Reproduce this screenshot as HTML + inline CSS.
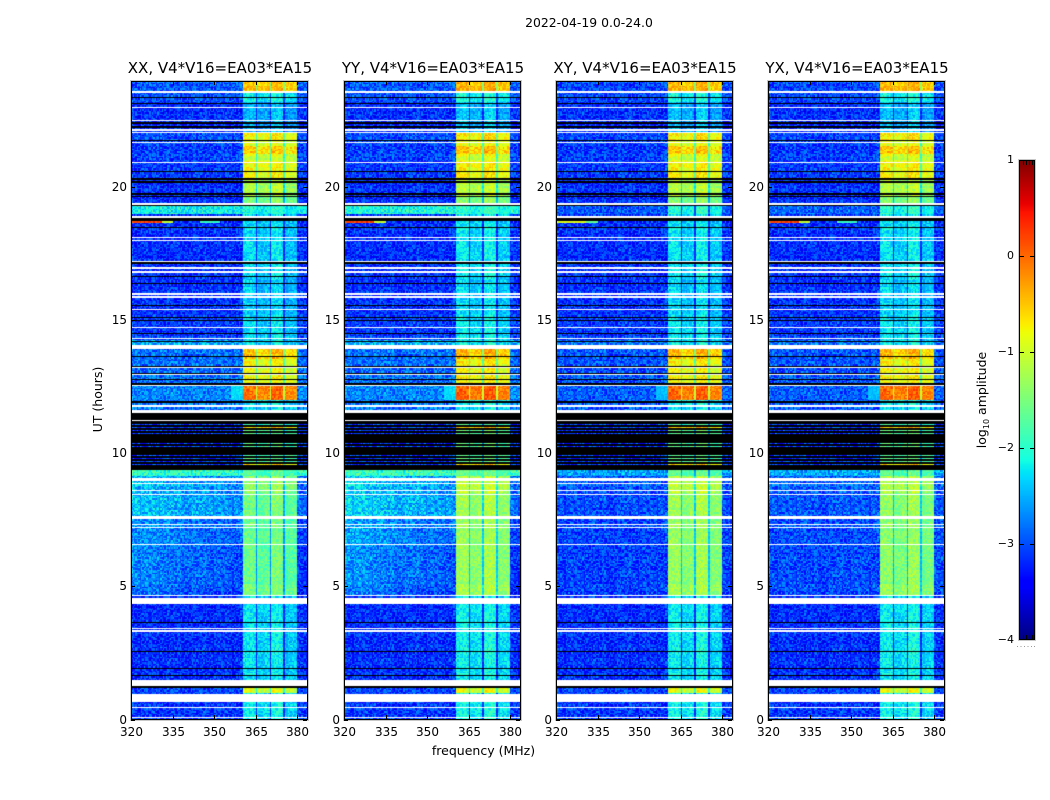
<!DOCTYPE html>
<html>
<head>
<meta charset="utf-8">
<title>Dynamic spectra 2022-04-19</title>
<style>
html,body{margin:0;padding:0;background:#fff;}
#chart{position:relative;width:1050px;height:800px;overflow:hidden;background:#fff;font-family:"DejaVu Sans","Liberation Sans",sans-serif;}
canvas{position:absolute;display:block;}
svg{position:absolute;left:0;top:0;}
text{font-family:"DejaVu Sans","Liberation Sans",sans-serif;fill:#000;}
</style>
</head>
<body>
<div id="chart">
<canvas id="heat0" width="178" height="640" style="left:131px;top:80px"></canvas>
<canvas id="heat1" width="178" height="640" style="left:344px;top:80px"></canvas>
<canvas id="heat2" width="178" height="640" style="left:556px;top:80px"></canvas>
<canvas id="heat3" width="178" height="640" style="left:768px;top:80px"></canvas>
<canvas id="cbar" width="16" height="480" style="left:1019px;top:160px"></canvas>
<svg id="overlay" width="1050" height="800" viewBox="0 0 1050 800">
<text x="589" y="27" text-anchor="middle" font-size="12.4">2022-04-19 0.0-24.0</text>
<text x="483.5" y="755" text-anchor="middle" font-size="12.5">frequency (MHz)</text>
<text transform="translate(102,399.5) rotate(-90)" text-anchor="middle" font-size="12.5">UT (hours)</text>
<text transform="translate(986,400) rotate(-90)" text-anchor="middle" font-size="12.5">log<tspan font-size="8" dy="3">10</tspan><tspan dy="-3"> amplitude</tspan></text>
</svg>
</div>
<script>
const polarizations = ['XX', 'YY', 'XY', 'YX'];
const panelTitles = ['XX, V4*V16=EA03*EA15', 'YY, V4*V16=EA03*EA15', 'XY, V4*V16=EA03*EA15', 'YX, V4*V16=EA03*EA15'];
const freqTicks = [320, 335, 350, 365, 380];
const hourTicks = [0, 5, 10, 15, 20];
const colorTicks = [-4, -3, -2, -1, 0, 1];

// Time segment boundaries in UT hours
const segmentEdges = [0, 0.96, 1.2, 4.6, 5, 6.5, 7.5, 8.5, 9.1, 9.36, 9.66, 10.83, 10.95, 11.5, 11.95, 12.55, 13.5, 13.9, 14.2, 15.2, 16.6, 18.9, 19.3, 19.6, 20.3, 20.9, 21.2, 21.5, 21.7, 22, 23.1, 23.5, 24];

// log10 amplitude away from the receiver band, per segment
const offBandXX = [-3.12, -3.05, -3.18, -2.95, -2.85, -2.8, -2.55, -2.6, -1.95, -3.1, -3.1, -3.1, -3.1, -2.8, -2.75, -2.85, -2.85, -2.55, -3.12, -3.18, -3.18, -2.15, -3.18, -3.18, -3.12, -3.08, -3.08, -3.08, -3, -3.18, -3, -2.95];
const offBandYY = [-3.12, -3.05, -3.18, -2.9, -2.8, -2.72, -2.47, -2.5, -1.9, -3.1, -3.1, -3.1, -3.1, -2.8, -2.75, -2.85, -2.85, -2.5, -3.12, -3.18, -3.18, -2.05, -3.18, -3.18, -3.12, -3.08, -3.08, -3.08, -3, -3.18, -3, -2.95];
const offBandXY = [-3.12, -3.05, -3.18, -3.08, -3.08, -3.08, -3.02, -2.98, -2.6, -3.1, -3.1, -3.1, -3.1, -2.95, -2.95, -2.98, -2.98, -2.8, -3.12, -3.18, -3.18, -2.95, -3.18, -3.18, -3.12, -3.12, -3.12, -3.12, -3.05, -3.18, -3.05, -3.05];
const offBandYX = [-3.12, -3.05, -3.18, -3.02, -3.02, -3.02, -2.97, -2.92, -2.55, -3.1, -3.1, -3.1, -3.1, -2.95, -2.95, -2.98, -2.98, -2.8, -3.12, -3.18, -3.18, -2.9, -3.18, -3.18, -3.12, -3.12, -3.12, -3.12, -3.05, -3.18, -3.05, -3.05];

// log10 amplitude inside the receiver band, per segment
const inBandLevel = [-2.25, -1.0, -2.3, -1.55, -1.65, -1.65, -1.6, -1.45, -1.8, -0.7, -1.7, -0.6, -1.9, -2.3, -0.12, -0.85, -0.55, -2.3, -2.35, -2.42, -2.35, -2.1, -1.55, -1.25, -0.85, -1.05, -0.6, -1.0, -0.8, -2.55, -2.2, -0.5];
const inBandShift = [0, 0.08, 0.05, 0.05];

// Sunrise-hours weighting: tilt of the off-band level and in-band brightening
const segmentTilt = [0, 0, 0, 1, 1, 1, 1, 1, 0, 0, 0, 0, 0, 0, 0, 0, 0, 0, 0, 0, 0, 0, 0, 0, 0, 0, 0, 0, 0, 0, 0, 0];
const polarizationTilt = [0.3, 0.35, 0, 0];
const sunriseInBandBoost = [0, 0.22, 0.22, 0.15];

// Receiver sub-bands in MHz
const subBandStart = [360.3, 365.3, 370.4, 375.4];
const subBandEnd = [364.6, 369.6, 374.7, 379.7];
const subBandOffset = [0.05, -0.05, 0.12, -0.1];
const gapDrop = [-1.0];

// Flagged time ranges, UT hours
const whiteFlagStart = [0.06, 0.43, 0.66, 1.26, 3.28, 3.39, 4.33, 4.63, 6.55, 7.19, 7.30, 7.52, 8.43, 8.58, 8.84, 8.95, 11.21, 11.5, 11.73, 12.52, 12.93, 13.19, 13.9, 14.28, 14.69, 15.37, 15.83, 15.93, 16.76, 16.89, 17.17, 17.95, 18.07, 18.82, 19.32, 20.88, 21.64, 22.0, 22.08, 22.46, 22.93, 23.51];
const whiteFlagEnd = [0.09, 0.47, 0.96, 1.48, 3.36, 3.43, 4.56, 4.67, 6.58, 7.22, 7.34, 7.64, 8.46, 8.61, 8.87, 9.06, 11.24, 11.61, 11.8, 12.55, 12.96, 13.23, 14.05, 14.32, 14.73, 15.40, 15.89, 16.0, 16.83, 16.98, 17.22, 17.99, 18.11, 18.89, 19.38, 20.92, 21.68, 22.06, 22.14, 22.50, 22.98, 23.58];
const blackFlagStart = [1.19, 1.64, 1.9, 2.54, 3.63, 9.36, 9.59, 9.7, 9.83, 9.92, 10.28, 10.39, 10.74, 10.87, 10.99, 11.1, 11.24, 11.88, 12.55, 12.74, 12.96, 13.23, 13.6, 14.16, 14.47, 14.96, 15.07, 15.52, 16.34, 16.6, 17.09, 18.44, 18.71, 19.28, 19.6, 19.68, 20.13, 20.26, 20.54, 21.69, 22.21, 22.35, 23.08, 23.33];
const blackFlagEnd = [1.26, 1.68, 1.94, 2.58, 3.67, 9.55, 9.66, 9.79, 9.89, 10.23, 10.35, 10.7, 10.83, 10.95, 11.06, 11.2, 11.5, 11.95, 12.63, 12.78, 13.0, 13.27, 13.64, 14.2, 14.5, 15.0, 15.1, 15.55, 16.38, 16.64, 17.17, 18.48, 18.82, 19.32, 19.64, 19.76, 20.21, 20.32, 20.58, 21.76, 22.27, 22.42, 23.13, 23.37];

// Narrow interference features
const rfiPolarization = [0, 0, 0, 1, 1, 2, 2, 3, 3, 3, 0, 1, 2, 3];
const rfiHourStart = [18.62, 18.62, 18.62, 18.62, 18.62, 18.62, 18.62, 18.62, 18.62, 18.62, 11.95, 11.95, 11.95, 11.95];
const rfiHourEnd = [18.69, 18.69, 18.69, 18.69, 18.69, 18.69, 18.69, 18.69, 18.69, 18.69, 12.55, 12.55, 12.55, 12.55];
const rfiFreqStart = [320, 331, 345, 320, 331, 320, 331, 320, 331, 345, 356, 356, 356, 356];
const rfiFreqEnd = [331, 335, 352, 331, 335, 331, 335, 331, 335, 352, 360.3, 360.3, 360.3, 360.3];
const rfiLevel = [0.2, -1.0, -1.9, 0.2, -1.0, -0.9, -1.6, 0.2, -1.0, -1.9, -2.3, -2.3, -2.45, -2.45];

// Estimated pixel-to-pixel speckle amplitude (log10), hand-written texture table
const speckle = [0.12, -0.28, 0.31, -0.05, 0.22, -0.34, 0.08, -0.17, 0.36, -0.24, 0.02, 0.27, -0.31, 0.15, -0.09, 0.33, -0.21, 0.06, -0.37, 0.19, 0.28, -0.13, -0.26, 0.04, 0.35, -0.19, 0.11, -0.32, 0.24, -0.07, 0.17, -0.29, 0.39, -0.02, -0.23, 0.09, 0.26, -0.36, 0.14, -0.11, 0.3, -0.16, 0.01, -0.27, 0.21, 0.07, -0.33, 0.29, -0.04, 0.18, -0.22, 0.42, -0.14];

const offBandByPol = [offBandXX, offBandYY, offBandXY, offBandYX];

const panelLeft = [131.2, 344, 556, 768.2];
const MHZ_PX = 2.767, HOUR_PX = 26.65, Y0 = 719.5;
const CH_MHZ = 0.5, ROW_H = 0.0525, F_MIN = 320, F_MAX = 383.8, H_MAX = 23.96;
function xScale(p, f) { return panelLeft[p] + (f - F_MIN) * MHZ_PX; }
function yScale(h) { return Y0 - h * HOUR_PX; }
function cbarY(v) { return 640 - (v + 4) * 96; }

function interp(stops, t) {
  if (t <= stops[0][0]) return stops[0][1];
  for (let i = 1; i < stops.length; i++) {
    if (t <= stops[i][0]) {
      const a = stops[i - 1], b = stops[i];
      return a[1] + (b[1] - a[1]) * (t - a[0]) / (b[0] - a[0]);
    }
  }
  return stops[stops.length - 1][1];
}
const jetR = [[0, 0], [0.35, 0], [0.66, 1], [0.89, 1], [1, 0.5]];
const jetG = [[0, 0], [0.125, 0], [0.375, 1], [0.64, 1], [0.91, 0], [1, 0]];
const jetB = [[0, 0.5], [0.11, 1], [0.34, 1], [0.65, 0], [1, 0]];
function jet(v) {
  const t = Math.max(0, Math.min(1, (v + 4) / 5));
  return 'rgb(' + Math.round(255 * interp(jetR, t)) + ',' + Math.round(255 * interp(jetG, t)) + ',' + Math.round(255 * interp(jetB, t)) + ')';
}
function segmentAt(h) {
  for (let i = 0; i < segmentEdges.length - 1; i++) {
    if (h < segmentEdges[i + 1]) return i;
  }
  return segmentEdges.length - 2;
}
function cellLevel(p, h, f, row, col) {
  const s = segmentAt(h);
  const g = speckle[(row * row * 3 + col * col * 7 + row * col * 11 + row * 5 + col) % speckle.length];
  for (let r = 0; r < rfiLevel.length; r++) {
    if (rfiPolarization[r] === p && h >= rfiHourStart[r] && h < rfiHourEnd[r] && f >= rfiFreqStart[r] && f < rfiFreqEnd[r]) {
      return rfiLevel[r] + g * 0.4;
    }
  }
  const off = offBandByPol[p][s];
  if (f >= subBandStart[0] && f < subBandEnd[subBandEnd.length - 1]) {
    const inLevel = inBandLevel[s] + inBandShift[p] + segmentTilt[s] * sunriseInBandBoost[p];
    for (let b = 0; b < subBandStart.length; b++) {
      if (f >= subBandStart[b] && f < subBandEnd[b]) return inLevel + subBandOffset[b] + g * 0.75;
    }
    return Math.max(off, inLevel + gapDrop[0]) + g * 0.4;
  }
  const tilt = segmentTilt[s] * polarizationTilt[p] * (0.5 - (f - F_MIN) / 40);
  return off + tilt + g * 1.15;
}

function drawPanel(p) {
  const cv = document.getElementById('heat' + p);
  const ctx = cv.getContext('2d');
  const ox = parseInt(cv.style.left, 10), oy = parseInt(cv.style.top, 10);
  let row = 0;
  for (let h = 0; h < H_MAX; h += ROW_H, row++) {
    const y1 = Math.round(yScale(h)) - oy, y0 = Math.round(yScale(h + ROW_H)) - oy;
    let col = 0;
    for (let f = F_MIN; f < F_MAX; f += CH_MHZ, col++) {
      const x0 = Math.round(xScale(p, f)) - ox, x1 = Math.round(xScale(p, f + CH_MHZ)) - ox;
      ctx.fillStyle = jet(cellLevel(p, h, f, row, col));
      ctx.fillRect(x0, y0, x1 - x0, y1 - y0);
    }
  }
  const xa = Math.round(xScale(p, F_MIN)) - ox, xb = Math.round(xScale(p, F_MAX)) - ox;
  ctx.fillStyle = '#fff';
  whiteFlagStart.forEach(function (s, i) {
    const top = Math.round(yScale(whiteFlagEnd[i])) - oy, bot = Math.round(yScale(s)) - oy;
    ctx.fillRect(xa, top, xb - xa, Math.max(1, bot - top));
  });
  ctx.fillStyle = '#000';
  blackFlagStart.forEach(function (s, i) {
    const top = Math.round(yScale(blackFlagEnd[i])) - oy, bot = Math.round(yScale(s)) - oy;
    ctx.fillRect(xa, top, xb - xa, Math.max(1, bot - top));
  });
}

function drawColorbar() {
  const ctx = document.getElementById('cbar').getContext('2d');
  for (let py = 0; py < 480; py++) {
    ctx.fillStyle = jet(1 - (py + 0.5) / 96);
    ctx.fillRect(0, py, 16, 1);
  }
}

const NS = 'http://www.w3.org/2000/svg';
const overlay = document.getElementById('overlay');
function svgEl(tag, attrs) {
  const el = document.createElementNS(NS, tag);
  for (const k in attrs) el.setAttribute(k, attrs[k]);
  overlay.appendChild(el);
  return el;
}
function minusText(v) { return v < 0 ? '\u2212' + Math.abs(v) : String(v); }

polarizations.forEach(function (pol, p) {
  drawPanel(p);
  const name = pol.toLowerCase();
  const L = Math.round(panelLeft[p]);
  const W = 176, T = 81, H = 638;

  const halo = svgEl('rect', { x: L - 0.5, y: T - 0.5, width: W + 2, height: H + 2, fill: 'none', stroke: '#c8c8c8', 'stroke-width': 1 });
  
  

  const frame = svgEl('rect', { x: L + 0.5, y: T + 0.5, width: W, height: H, fill: 'none', stroke: '#000', 'stroke-width': 1 });
  
  

  const title = svgEl('text', { x: L + W / 2 + 1, y: 73, 'text-anchor': 'middle', 'font-size': 15 });
  title.textContent = panelTitles[p];
  
  

  freqTicks.forEach(function (f) {
    const x = Math.round(xScale(p, f)) + 0.5;
    const bt = svgEl('line', { x1: x, x2: x, y1: 719, y2: 715, stroke: '#000', 'stroke-width': 1 });
    
    
    const tt = svgEl('line', { x1: x, x2: x, y1: 81, y2: 85, stroke: '#000', 'stroke-width': 1 });
    
    
    const lb = svgEl('text', { x: x, y: 736, 'text-anchor': 'middle', 'font-size': 12 });
    lb.textContent = String(f);
    
    
  });

  hourTicks.forEach(function (h) {
    const y = Math.round(yScale(h)) + 0.5;
    const lt = svgEl('line', { x1: L, x2: L + 4, y1: y, y2: y, stroke: '#000', 'stroke-width': 1 });
    
    
    const rt = svgEl('line', { x1: L + W, x2: L + W - 4, y1: y, y2: y, stroke: '#000', 'stroke-width': 1 });
    
    
    const lb = svgEl('text', { x: L - 4, y: y + 3.5, 'text-anchor': 'end', 'font-size': 12 });
    lb.textContent = String(h);
    
    
  });
});

drawColorbar();

const cbHalo = svgEl('rect', { x: 1018.5, y: 159.5, width: 17, height: 481, fill: 'none', stroke: '#c8c8c8', 'stroke-width': 1 });



const cbFrame = svgEl('rect', { x: 1019.5, y: 160.5, width: 15, height: 479, fill: 'none', stroke: '#000', 'stroke-width': 1 });



colorTicks.forEach(function (v) {
  const y = Math.min(639.5, Math.max(160.5, Math.round(cbarY(v)) + 0.5));
  const a = svgEl('line', { x1: 1020, x2: 1024, y1: y, y2: y, stroke: '#000', 'stroke-width': 1 });
  
  
  const b = svgEl('line', { x1: 1034, x2: 1030, y1: y, y2: y, stroke: '#000', 'stroke-width': 1 });
  
  
  const lb = svgEl('text', { x: 1014, y: Math.round(cbarY(v)) + 3, 'text-anchor': 'end', 'font-size': 11 });
  lb.textContent = minusText(v);
  
  
});

[1023, 1026, 1029, 1032].forEach(function (x) {
  const a = svgEl('line', { x1: x + 0.5, x2: x + 0.5, y1: 160, y2: 165, stroke: '#000', 'stroke-width': 1 });
  
  
  const b = svgEl('line', { x1: x + 0.5, x2: x + 0.5, y1: 640, y2: 635, stroke: '#000', 'stroke-width': 1 });
  
  
});

[1017, 1020.5, 1024, 1027.5, 1031, 1034].forEach(function (x) {
  const d = svgEl('rect', { x: x, y: 646, width: 1, height: 1, fill: '#999' });
  
  
});
</script>
</body>
</html>
